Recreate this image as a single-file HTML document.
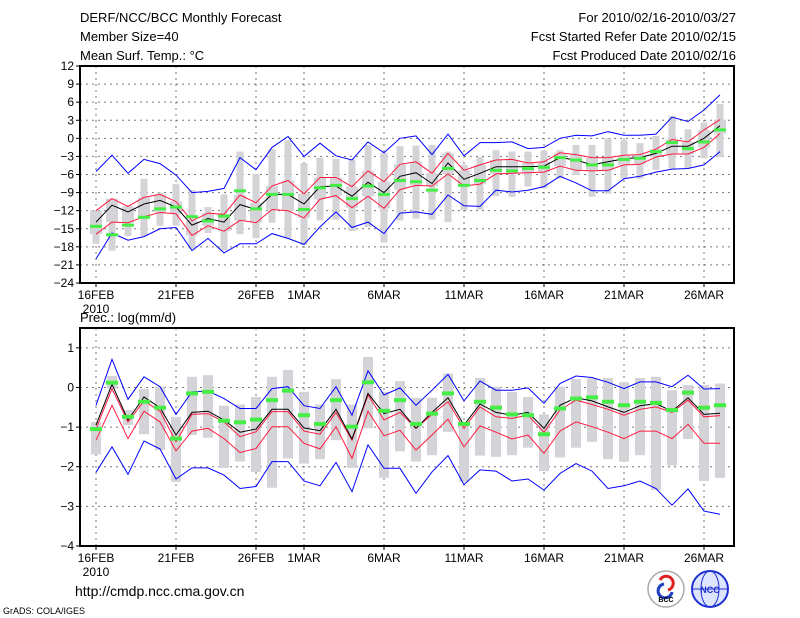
<!DOCTYPE html>
<html><head><meta charset="utf-8"><style>
body{margin:0;background:#fff;}
svg{display:block;font-family:"Liberation Sans",sans-serif;}
</style></head><body>
<svg id="c" width="800" height="618" xmlns="http://www.w3.org/2000/svg">
<g font-size="13" fill="#000">
<text x="80" y="22">DERF/NCC/BCC Monthly Forecast</text>
<text x="80" y="41">Member Size=40</text>
<text x="80" y="60">Mean Surf. Temp.: °C</text>
<text x="736" y="22" text-anchor="end">For 2010/02/16-2010/03/27</text>
<text x="736" y="41" text-anchor="end">Fcst Started Refer Date 2010/02/15</text>
<text x="736" y="60" text-anchor="end">Fcst Produced Date 2010/02/16</text>
<text x="80" y="322">Prec.: log(mm/d)</text>
</g>
<text x="75" y="596" font-size="14">http://cmdp.ncc.cma.gov.cn</text>
<text x="3" y="614" font-size="9">GrADS: COLA/IGES</text>
<g>
<circle cx="666" cy="589" r="18" fill="#fff" stroke="#aaa" stroke-width="1.5"/>
<path d="M660 580 a7 7 0 1 1 8 10" fill="none" stroke="#e02020" stroke-width="3"/>
<path d="M672 592 a7 7 0 1 1 -8 -8" fill="none" stroke="#2040c0" stroke-width="3"/>
<text x="666" y="602" font-size="7" text-anchor="middle" font-weight="bold">BCC</text>
</g>
<g>
<circle cx="710" cy="589" r="18" fill="#dde4ff" stroke="#2030d0" stroke-width="2"/>
<ellipse cx="710" cy="589" rx="9" ry="18" fill="none" stroke="#2030d0"/>
<line x1="692" y1="589" x2="728" y2="589" stroke="#2030d0"/>
<text x="710" y="593" font-size="9" text-anchor="middle" fill="#2030d0" font-weight="bold">NCC</text>
</g>
</svg>
<script>
// shared
const dayLabels=["16FEB","21FEB","26FEB","1MAR","6MAR","11MAR","16MAR","21MAR","26MAR"];
const dayLabelPos=[0,5,10,13,18,23,28,33,38];
// temperature chart data
const tTicks=[12,9,6,3,0,-3,-6,-9,-12,-15,-18,-21,-24];
const tBlueHi=[-5.5,-2.8,-5.8,-3.5,-4.2,-6.1,-9,-8.8,-8.3,-3.2,-5.2,-1.5,0.3,-3,-0.8,-2.9,-3.6,-0.6,-2.4,0,0.4,-2.7,0.7,-2.9,-0.7,-0.7,-0.6,-1.7,-1.5,0,0.5,0.4,1.1,0.5,0.5,0.7,3.5,2.8,4.7,7.2];
const tBlueLo=[-20,-15.7,-16.9,-16.3,-15,-14.8,-18.6,-16.6,-19,-17.5,-17.5,-15.8,-16.6,-17.6,-14.7,-12.2,-14.8,-13.9,-15.8,-12.4,-12.2,-12.6,-9.4,-11.2,-11.3,-8.6,-8.9,-8.6,-8,-6.3,-7.4,-8.7,-8.7,-6.7,-6.3,-5.6,-5.1,-5,-4.4,-2.2];
const tMean=[-13.9,-11.1,-12.2,-10.9,-10.3,-11.4,-14.4,-13.3,-13.9,-11,-11.8,-9.3,-9.3,-10.9,-8,-7.9,-9.6,-7.3,-9,-6.3,-5.7,-7.5,-4.1,-6.8,-5.8,-4.7,-4.7,-4.7,-4.6,-3.2,-3.6,-4.4,-3.9,-3.4,-3.2,-2.5,-1.3,-1.3,0,2.1];
const tRedHi=[-12,-10,-11.3,-9.8,-9.3,-10.5,-13.7,-12.4,-12.6,-9.4,-10.7,-7.9,-7,-9.2,-6.5,-6.5,-8,-5.4,-7.2,-4.3,-3.9,-5.8,-2.5,-5.3,-4.4,-3.6,-3.5,-4.1,-3.9,-2.4,-2.7,-3.2,-3.2,-2.8,-2.7,-1.8,-0.2,-0.6,1.4,3.1];
const tRedLo=[-15.9,-13.9,-14,-13,-12.3,-12.5,-16.1,-14.5,-15.4,-13.6,-14,-11.8,-12,-13.2,-10.1,-9.5,-11.5,-9.6,-11.6,-8.5,-7.8,-7.9,-5.9,-7.9,-7.6,-5.9,-5.8,-5.7,-5.6,-4.6,-5.3,-5.4,-5.3,-4.4,-4.3,-3.1,-2.6,-2.6,-1.5,0.8];
const tMedian=[-14.6,-16,-14.4,-13.1,-11.7,-11.4,-13,-13.7,-12.9,-8.7,-11.7,-9.3,-9.3,-11.8,-8.2,-7.8,-10,-7.9,-9.3,-7,-7.2,-8.6,-5,-7.8,-7,-5.3,-5.4,-5,-4.8,-3.2,-3.6,-4.4,-4.4,-3.5,-3.3,-2.2,-0.7,-1.7,-0.6,1.4];
const tBarHi=[-12.6,-13.3,-11.1,-6.7,-9,-7.6,-8.6,-11.4,-9.3,-2.2,-5.9,-1.8,-0.3,-4.1,-3.2,-3.4,-3.5,-1.1,-2.4,-1.3,-1.2,-1.1,-2.2,-4.4,-3.1,-2,-2.2,-2.2,-2,-2,-1.1,-1.1,0,-0.3,-0.8,0.4,3.7,1.5,2.6,5.7];
const tBarLo=[-17.5,-18.6,-16.2,-16.2,-14.5,-14.5,-18.3,-15.7,-18.6,-15.9,-16.6,-14,-16.6,-17.7,-13.6,-13.5,-15.4,-14.7,-17.3,-13.6,-13.3,-13.5,-13.9,-11.9,-11.8,-9.6,-9.7,-8,-8.3,-6.7,-6.1,-9.7,-9.2,-6.7,-6.7,-5.2,-5,-5,-3.3,-3.1];
// precipitation chart data
const pTicks=[1,0,-1,-2,-3,-4];
const pBlueHi=[-0.45,0.71,-0.3,0.27,0.02,-0.68,-0.11,-0.09,-0.28,-0.53,-0.53,-0.03,0.02,-0.46,-0.53,0.02,-0.7,0.42,-0.19,-0.01,-0.45,-0.07,0.33,-0.34,0.16,-0.07,-0.07,-0.01,-0.4,0.1,0.29,0.25,0.13,-0.03,0.14,0.14,0.02,0.31,-0.04,-0.03];
const pBlueLo=[-2.14,-1.5,-2.19,-1.35,-1.55,-2.31,-2.03,-2.03,-2.21,-2.55,-2.5,-1.87,-1.87,-2.36,-2.48,-1.89,-2.63,-1.45,-2.04,-2.04,-2.67,-2.13,-1.72,-2.45,-2.08,-2.11,-2.36,-2.31,-2.59,-2.17,-1.92,-2.11,-2.55,-2.48,-2.36,-2.55,-2.97,-2.56,-3.12,-3.2];
const pMean=[-0.95,0.08,-0.82,-0.24,-0.51,-1.2,-0.63,-0.6,-0.82,-1.13,-1.05,-0.55,-0.55,-1.02,-1.09,-0.55,-1.3,-0.15,-0.66,-0.55,-1.03,-0.63,-0.26,-0.95,-0.42,-0.63,-0.7,-0.63,-1.03,-0.45,-0.26,-0.34,-0.49,-0.63,-0.46,-0.41,-0.6,-0.26,-0.68,-0.65];
const pRedHi=[-1.05,-0.03,-0.87,-0.34,-0.6,-1.37,-0.68,-0.66,-0.87,-1.24,-1.12,-0.61,-0.61,-1.1,-1.18,-0.63,-1.33,-0.19,-0.82,-0.63,-1.03,-0.68,-0.36,-1.03,-0.49,-0.74,-0.78,-0.7,-1.13,-0.57,-0.32,-0.43,-0.55,-0.7,-0.55,-0.49,-0.63,-0.32,-0.74,-0.71];
const pRedLo=[-1.33,-0.45,-1.29,-0.6,-0.87,-1.6,-1.1,-1.03,-1.29,-1.64,-1.54,-0.99,-0.99,-1.41,-1.55,-0.99,-1.79,-0.6,-1.22,-1.08,-1.58,-1.2,-0.8,-1.5,-0.97,-1.13,-1.3,-1.2,-1.66,-1.1,-0.87,-0.99,-1.13,-1.29,-1.1,-1.1,-1.29,-0.93,-1.41,-1.41];
const pMedian=[-1.05,0.12,-0.74,-0.36,-0.51,-1.29,-0.15,-0.11,-0.84,-0.88,-0.81,-0.32,-0.08,-0.7,-0.92,-0.32,-0.99,0.13,-0.59,-0.32,-0.92,-0.66,-0.15,-0.92,-0.36,-0.51,-0.68,-0.7,-1.18,-0.53,-0.28,-0.25,-0.36,-0.45,-0.36,-0.39,-0.57,-0.13,-0.51,-0.45];
const pBarHi=[-0.87,0.29,-0.57,-0.04,0.02,-0.74,0.27,0.31,-0.46,-0.43,-0.24,0.27,0.44,-0.11,-0.43,0.21,-0.43,0.77,-0.11,0.16,-0.26,-0.26,0.35,-0.87,0.24,0.02,-0.11,-0.24,-0.68,0.02,0.21,0.23,0.24,0.13,0.24,0.27,-0.07,0.06,0.06,0.1];
const pBarLo=[-1.69,-0.03,-0.95,-1.18,-1.58,-2.38,-1.2,-1.27,-2.03,-1.87,-2.13,-2.53,-1.79,-1.92,-1.81,-1.33,-2.03,-1.03,-2.28,-1.61,-1.87,-1.71,-1.12,-2.38,-1.72,-1.75,-1.71,-1.52,-2.11,-1.77,-1.52,-1.37,-1.81,-1.87,-1.71,-2.59,-1.97,-1.3,-2.36,-2.28];

const NS="http://www.w3.org/2000/svg";
const svg=document.getElementById('c');
function mk(tag,attrs,parent){const e=document.createElementNS(NS,tag);for(const k in attrs)e.setAttribute(k,attrs[k]);(parent||svg).appendChild(e);return e;}
const X0=80,X1=734;
function xs(d){return 96+d*16;}

function drawChart(cfg){
  const g=mk('g',{});
  
  
  const ys=v=>cfg.yTop+(cfg.vTop-v)*cfg.ppu;
  // grid
  cfg.ticks.forEach(t=>{
    const y=ys(t);
    if(y>cfg.yTop+1&&y<cfg.yBot-1){const l=mk('line',{x1:X0,x2:X1,y1:y,y2:y,stroke:'#777','stroke-dasharray':'2,4','stroke-width':1},g);
    
    }
    const tk=mk('line',{x1:X0-4,x2:X0,y1:y,y2:y,stroke:'#000'},g);
    
    
    const tx=mk('text',{x:X0-6,y:y+4,'font-size':12,'text-anchor':'end'},g);
    tx.textContent=String(t).replace('-','\u2212');
    
    
  });
  dayLabelPos.forEach((d,i)=>{
    const x=xs(d);
    const l=mk('line',{x1:x,x2:x,y1:cfg.yTop,y2:cfg.yBot,stroke:'#777','stroke-dasharray':'2,4','stroke-width':1},g);
    
    
    const tk=mk('line',{x1:x,x2:x,y1:cfg.yBot,y2:cfg.yBot+4,stroke:'#000'},g);
    
    
    const tx=mk('text',{x:x,y:cfg.yBot+16,'font-size':12,'text-anchor':'middle'},g);
    tx.textContent=dayLabels[i];
    
    
  });
  const yr=mk('text',{x:96,y:cfg.yBot+30,'font-size':12,'text-anchor':'middle'},g);
  yr.textContent='2010';
  
  
  // bars
  for(let d=0;d<cfg.barHi.length;d++){
    const x=xs(d),y1=ys(cfg.barHi[d]),y2=ys(cfg.barLo[d]);
    const r=mk('rect',{x:x-cfg.barW/2,y:y1,width:cfg.barW,height:Math.max(1,y2-y1),fill:'#d3d3d8'},g);
    
    
    if(cfg.boxHi){
      const b1=ys(cfg.boxHi[d]),b2=ys(cfg.boxLo[d]);
      const b=mk('rect',{x:x-6,y:b1,width:12,height:Math.max(1,b2-b1),fill:'#d3d3d8'},g);
      
      
    }
  }
  const line=(arr,col,name)=>{
    const p=mk('polyline',{points:arr.map((v,d)=>xs(d)+','+ys(v).toFixed(1)).join(' '),fill:'none',stroke:col,'stroke-width':1},g);
    
    
  };
  line(cfg.blueHi,'#0000ff','max-line');
  line(cfg.blueLo,'#0000ff','min-line');
  line(cfg.redHi,'#ff1a40','upper-std-line');
  line(cfg.redLo,'#ff1a40','lower-std-line');
  line(cfg.mean,'#000','ensemble-mean-line');
  cfg.median.forEach((v,d)=>{
    const m=mk('rect',{x:xs(d)-6,y:ys(v)-cfg.medH/2,width:12,height:cfg.medH,fill:'#44ee44'},g);
    
    
  });
  const f=mk('rect',{x:X0,y:cfg.yTop,width:X1-X0,height:cfg.yBot-cfg.yTop,fill:'none',stroke:'#000','stroke-width':2},g);
  
  
}
drawChart({name:'temperature-chart',yTop:66,yBot:283,vTop:12,ppu:217/36,ticks:tTicks,
  barHi:tBarHi,barLo:tBarLo,boxHi:tRedHi,boxLo:tRedLo,barW:7,medH:3,
  blueHi:tBlueHi,blueLo:tBlueLo,redHi:tRedHi,redLo:tRedLo,mean:tMean,median:tMedian});
drawChart({name:'precipitation-chart',yTop:328,yBot:546,vTop:1.5,ppu:218/5.5,ticks:pTicks,
  barHi:pBarHi,barLo:pBarLo,barW:10,medH:4,
  blueHi:pBlueHi,blueLo:pBlueLo,redHi:pRedHi,redLo:pRedLo,mean:pMean,median:pMedian});
</script>
</body></html>
